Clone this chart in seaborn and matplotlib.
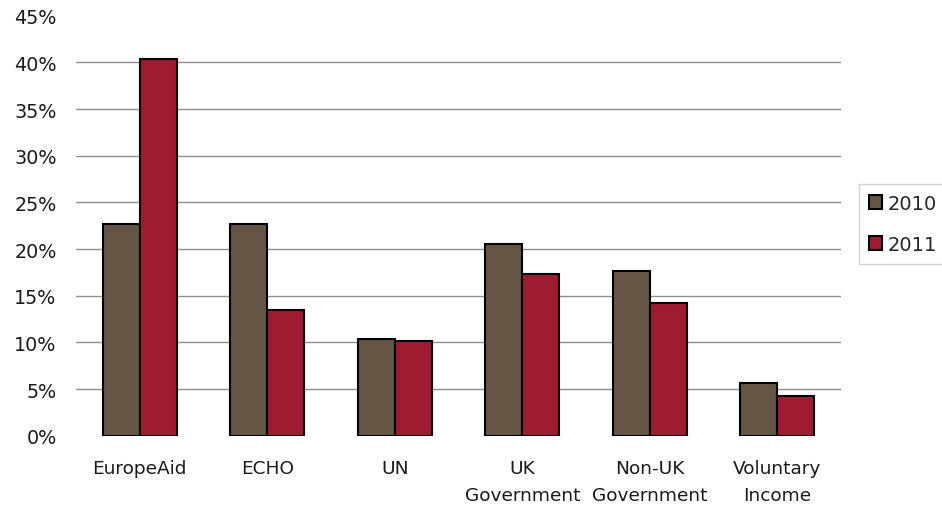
import matplotlib
matplotlib.use("Agg")
import matplotlib.pyplot as plt
import seaborn as sns
import pandas as pd
from matplotlib.ticker import PercentFormatter

categories = ["EuropeAid", "ECHO", "UN", "UK\nGovernment", "Non-UK\nGovernment", "Voluntary\nIncome"]
values_2010 = [22.7, 22.7, 10.4, 20.5, 17.7, 5.6]
values_2011 = [40.4, 13.5, 10.2, 17.3, 14.2, 4.3]
years = ["2010", "2011"]
colors = ["#645545", "#9E1B32"]

df = pd.DataFrame({
    "category": categories * 2,
    "year": [years[0]] * len(categories) + [years[1]] * len(categories),
    "value": values_2010 + values_2011,
})

sns.set_theme(style="white")
plt.rcParams["font.family"] = ["DejaVu Sans"]

fig = plt.figure(figsize=(9.42, 5.10), dpi=100)
ax = fig.add_axes([76 / 942, 1 - 436.7 / 510, (841 - 76) / 942, (436.7 - 16.7) / 510])

sns.barplot(data=df, x="category", y="value", hue="year", palette=colors,
            width=0.58, gap=0, edgecolor="black", linewidth=1.5, ax=ax,
            legend=True, saturation=1)

ax.set_ylim(0, 45)
ax.set_yticks(range(0, 46, 5))
ax.yaxis.set_major_formatter(PercentFormatter(decimals=0))
ax.set_xlim(-0.5, len(categories) - 0.5)
ax.set_xlabel("")
ax.set_ylabel("")
for s in ax.spines.values():
    s.set_visible(False)
ax.set_axisbelow(True)
for t in range(5, 45, 5):
    ax.axhline(t, color="#8f8f8f", linewidth=1, zorder=0)
ax.tick_params(axis="y", length=0, pad=14, labelsize=13.8, labelcolor="#1a1a1a")
ax.tick_params(axis="x", length=0, pad=17, labelsize=13.3, labelcolor="#1a1a1a")
for lab in ax.get_xticklabels():
    lab.set_linespacing(1.6)

handles, labels = ax.get_legend_handles_labels()
ax.get_legend().remove()
leg = fig.legend(handles, labels, loc="upper left",
                 bbox_to_anchor=(859 / 942, 1 - 185 / 510),
                 fontsize=14, frameon=True, fancybox=False,
                 edgecolor="#c8c8c8", handlelength=0.7, handleheight=0.7,
                 handletextpad=0.25, labelspacing=1.15, borderpad=0.5,
                 borderaxespad=0)
leg.get_frame().set_linewidth(1)

fig.savefig("out.png", dpi=100)
